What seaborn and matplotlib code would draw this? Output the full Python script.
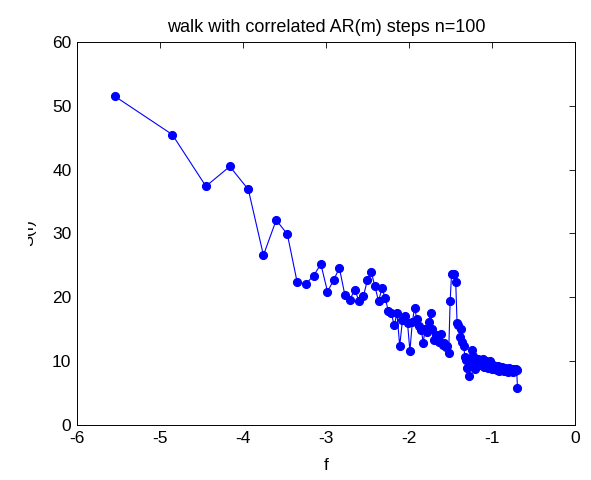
import matplotlib
matplotlib.use("Agg")
import matplotlib.pyplot as plt
from matplotlib.transforms import Bbox, TransformedBbox
import numpy as np
import pandas as pd
import seaborn as sns

# log-frequency grid (ln(k/256), k = 1..128)
f = [
    -5.545, -4.852, -4.447, -4.159, -3.936, -3.754, -3.600, -3.466, -3.348, -3.244,
    -3.149, -3.062, -2.982, -2.908, -2.839, -2.773, -2.713, -2.655, -2.601, -2.549,
    -2.501, -2.454, -2.410, -2.367, -2.326, -2.287, -2.250, -2.213, -2.178, -2.145,
    -2.112, -2.079, -2.048, -2.018, -1.989, -1.960, -1.933, -1.906, -1.879, -1.853,
    -1.828, -1.807, -1.785, -1.763, -1.740, -1.718, -1.696, -1.674, -1.653, -1.634,
    -1.614, -1.595, -1.576, -1.557, -1.539, -1.522, -1.504, -1.487, -1.470, -1.454,
    -1.437, -1.421, -1.405, -1.386, -1.371, -1.356, -1.341, -1.326, -1.311, -1.297,
    -1.283, -1.269, -1.255, -1.241, -1.228, -1.215, -1.202, -1.189, -1.176, -1.163,
    -1.151, -1.139, -1.127, -1.115, -1.103, -1.091, -1.080, -1.068, -1.057, -1.046,
    -1.035, -1.024, -1.013, -1.003, -0.992, -0.982, -0.971, -0.961, -0.951, -0.941,
    -0.931, -0.922, -0.912, -0.902, -0.893, -0.883, -0.874, -0.865, -0.856, -0.847,
    -0.838, -0.829, -0.820, -0.811, -0.802, -0.794, -0.785, -0.777, -0.768, -0.760,
    -0.752, -0.744, -0.736, -0.727, -0.719, -0.711, -0.703, -0.693,
]

# spectral estimate S(f)
S = [
    51.5, 45.5, 37.4, 40.5, 36.9, 26.6, 32.1, 29.9, 22.4, 22.1,
    23.4, 25.2, 20.9, 22.7, 24.6, 20.4, 19.6, 21.2, 19.4, 20.2,
    22.7, 23.9, 21.7, 19.4, 21.4, 19.9, 17.9, 17.5, 15.6, 17.5,
    12.4, 16.4, 17.1, 16.0, 11.6, 16.1, 18.4, 16.6, 15.5, 14.9,
    12.9, 15.0, 14.6, 16.2, 17.6, 15.1, 13.3, 14.1, 13.6, 13.0,
    14.3, 12.5, 12.8, 12.2, 12.3, 11.3, 19.5, 23.7, 23.6, 23.7,
    22.4, 16.0, 15.7, 13.8, 15.0, 13.0, 12.3, 10.7, 10.2, 8.9,
    7.7, 9.5, 10.5, 11.7, 10.8, 9.6, 8.8, 10.0, 9.2, 10.4,
    9.8, 10.2, 9.4, 9.9, 10.4, 9.1, 9.7, 10.1, 9.3, 9.0,
    9.6, 10.0, 9.2, 8.8, 9.4, 9.1, 8.7, 9.3, 9.0, 8.6,
    9.2, 8.9, 8.5, 9.0, 8.7, 9.1, 8.6, 8.8, 8.4, 8.9,
    8.7, 8.5, 8.8, 8.3, 8.6, 8.9, 8.5, 8.4, 8.7, 8.6,
    8.3, 8.5, 8.8, 8.4, 8.6, 8.7, 8.6, 5.8,
]

x_ticks = [-6, -5, -4, -3, -2, -1, 0]
y_ticks = [0, 10, 20, 30, 40, 50, 60]

sns.set_style("white")
plt.rcParams["font.family"] = ["Liberation Sans", "DejaVu Sans"]
plt.rcParams["xtick.direction"] = "in"
plt.rcParams["ytick.direction"] = "in"
plt.rcParams["text.color"] = "black"
plt.rcParams["axes.labelcolor"] = "black"
plt.rcParams["xtick.color"] = "black"
plt.rcParams["ytick.color"] = "black"

fig = plt.figure(figsize=(5.91, 4.80), dpi=100)
ax = fig.add_axes([77 / 591, 1 - 425 / 480, 498 / 591, 383 / 480])

df = pd.DataFrame({"f": f, "S": S})
sns.lineplot(
    data=df, x="f", y="S", ax=ax, color="#0000ff", linewidth=0.8,
    marker="o", markersize=5.8, markeredgecolor="#0000ff",
    markerfacecolor="#0000ff", estimator=None, sort=False,
)

ax.set_xlim(-6, 0)
ax.set_ylim(0, 60)
ax.set_xticks(x_ticks)
ax.set_yticks(y_ticks)
ax.set_xticklabels([str(v) for v in x_ticks])
ax.set_yticklabels([str(v) for v in y_ticks])
ax.tick_params(axis="both", which="major", labelsize=12.5, length=4.5,
               width=0.6, color="black", labelcolor="black",
               top=True, right=True, pad=4)
for side in ax.spines.values():
    side.set_visible(True)
    side.set_color("black")
    side.set_linewidth(0.7)

ax.set_title("walk with correlated AR(m) steps n=100", fontsize=13, pad=7,
             color="black")
ax.set_xlabel("f", fontsize=12.5, labelpad=9, color="black")
ax.set_ylabel("")

# y-axis label, partly hidden at its left edge
ylab = fig.text(36 / 591, 1 - 233 / 480, "S(f)", rotation=90, fontsize=12,
                ha="right", va="center", color="black")
ylab.set_clip_box(TransformedBbox(Bbox([[28 / 591, 0], [1, 1]]), fig.transFigure))
ylab.set_clip_on(True)

fig.savefig("out.png", dpi=100, facecolor="white")
